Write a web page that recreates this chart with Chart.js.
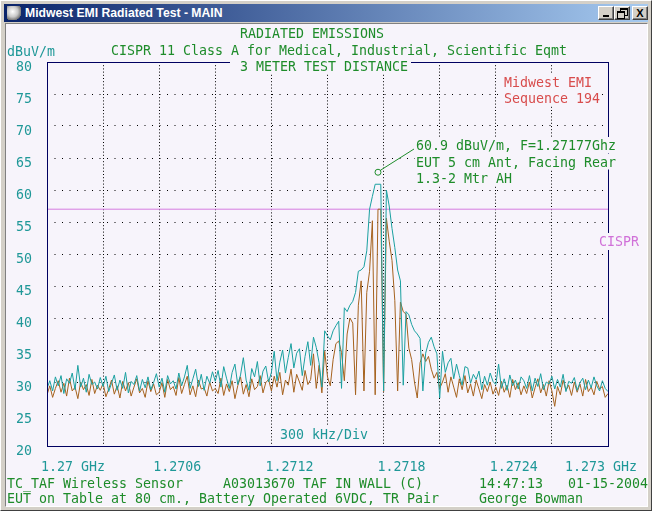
<!DOCTYPE html>
<html lang="en">
<head>
<meta charset="UTF-8">
<title>Midwest EMI Radiated Test - MAIN</title>
<script src="https://cdn.jsdelivr.net/npm/chart.js@4.4.1/dist/chart.umd.min.js"></script>
<style>
  body { margin: 0; background: #d4d0c8; }
  #win {
    position: relative; width: 652px; height: 511px; overflow: hidden;
    background: #d4d0c8; box-sizing: border-box;
    border-top: 1px solid #ffffff; border-left: 1px solid #ffffff;
    border-right: 1px solid #404040; border-bottom: 1px solid #404040;
  }
  #title {
    position: absolute; left: 3px; top: 3px; width: 644px; height: 18px;
    background: linear-gradient(to right, #0a246a, #a6caf0);
    color: #fff; font: bold 12.2px "Liberation Sans", Arial, sans-serif;
    line-height: 18px;
  }
  #title span.cap { position: absolute; left: 21px; top: 0; }
  #icon {
    position: absolute; left: 3px; top: 2px; width: 14px; height: 14px;
    background: radial-gradient(circle at 40% 40%, #ffffff 0, #c8c8c8 45%, #707070 75%, transparent 78%);
  }
  .btn {
    position: absolute; top: 2px; width: 16px; height: 14px; box-sizing: border-box;
    background: #d4d0c8;
    border-top: 1px solid #ffffff; border-left: 1px solid #ffffff;
    border-right: 1px solid #404040; border-bottom: 1px solid #404040;
    box-shadow: inset -1px -1px 0 #808080;
    color: #000; font: bold 11px "Liberation Sans", Arial, sans-serif;
    text-align: center; line-height: 12px;
  }
  #bmin { left: 594px; }
  #bmax { left: 610px; }
  #bclose { left: 628px; }
  #bmin i { position: absolute; left: 4px; top: 8px; width: 6px; height: 2px; background: #000; }
  #bmax i { position: absolute; width: 6px; height: 5px; border: 1px solid #000; border-top-width: 2px; background: #d4d0c8; }
  #bmax i.a { left: 5px; top: 1px; }
  #bmax i.b { left: 2px; top: 4px; }
  #client {
    position: absolute; left: 4px; top: 22px; width: 643px; height: 484px;
    background: #f7f4fb; box-sizing: border-box;
    border-left: 1px solid #808080; border-top: 1px solid #808080;
    border-right: 1px solid #ffffff; border-bottom: 1px solid #ffffff;
  }
  #chart { position: absolute; left: 0; top: 0; }
</style>
</head>
<body>
<div id="win">
  <div id="title"><div id="icon"></div><span class="cap">Midwest EMI Radiated Test - MAIN</span>
    <div class="btn" id="bmin"><i></i></div>
    <div class="btn" id="bmax"><i class="a"></i><i class="b"></i></div>
    <div class="btn" id="bclose">X</div>
  </div>
  <div id="client"></div>
  <canvas id="chart" width="651" height="510"></canvas>
</div>
<script>
// sweep: 201 points, 1.270 .. 1.273 GHz (values in MHz)
var sweepStartMHz = 1270;
var sweepStepMHz = 0.015;

// teal scan, dBuV/m
var scan1 = [
  29.0, 30.2, 28.6, 30.8, 29.4, 31.0, 28.2, 30.5, 29.8, 31.4, 28.8, 32.6, 29.2, 30.6, 28.4, 31.2, 29.6, 30.0, 28.9, 30.7,
  29.3, 30.9, 28.5, 29.8, 31.1, 28.7, 30.3, 29.0, 31.5, 28.3, 30.1, 29.6, 31.0, 28.6, 30.4, 29.1, 30.8, 28.8, 29.9, 31.3,
  29.2, 30.6, 28.4, 31.0, 29.7, 30.2, 28.9, 31.4, 29.4, 30.8, 32.6, 29.0, 30.5, 32.0, 29.3, 31.2, 28.7, 30.9, 29.8, 31.6,
  30.1, 31.8, 29.2, 32.4, 30.6, 29.0, 31.5, 32.8, 29.6, 31.1, 33.8, 30.3, 28.7, 32.1, 30.8, 33.2, 29.4, 31.7, 32.5, 30.0,
  31.5, 34.8, 30.2, 33.1, 35.0, 31.4, 33.8, 36.0, 32.2, 34.5, 35.2, 31.0, 34.0, 36.3, 32.6, 37.0, 35.4, 33.0, 29.2, 38.0,
  37.2, 36.6, 38.0, 38.8, 39.5, 29.0, 41.6, 41.0, 42.0, 42.6,
  44.0, 47.3, 47.5, 48.0, 50.5, 57.0, 59.0, 60.9, 60.9, 60.9,
  28.6, 60.0, 57.5, 54.0, 51.0, 47.5, 45.8, 29.5, 41.0, 40.5,
  39.0, 38.0, 37.5, 36.8, 28.6, 34.5, 36.2, 37.0, 35.5, 34.4,
  27.5, 34.8, 31.5, 33.0, 33.7, 30.5, 32.8, 31.0, 29.5, 32.4,
  32.2, 29.8, 31.2, 30.4, 31.7, 28.8, 30.9, 29.5, 31.4, 30.1,
  29.6, 32.8, 29.0, 30.5, 28.7, 31.1, 29.4, 30.3, 28.9, 30.8,
  30.2, 29.0, 31.0, 28.6, 30.6, 29.3, 31.3, 28.8, 30.0, 29.7,
  30.9, 28.9, 30.4, 29.2, 31.2, 28.5, 30.1, 29.8, 30.7, 28.7,
  29.9, 30.6, 28.8, 30.3, 29.1, 30.8, 29.4, 28.6, 30.2, 29.0, 28.5
];

// brown scan, dBuV/m
var scan2 = [
  28.0, 29.4, 27.6, 29.0, 30.2, 28.4, 29.8, 27.8, 30.6, 28.6, 29.2, 27.4, 30.0, 28.8, 29.6, 27.9, 30.4, 28.2, 29.5, 28.7,
  29.8, 27.7, 28.9, 30.3, 28.1, 29.4, 27.5, 30.1, 28.6, 29.9, 27.8, 29.2, 30.5, 28.3, 29.0, 27.6, 30.2, 28.5, 29.7, 28.0,
  28.4, 29.9, 27.6, 30.4, 28.8, 29.3, 27.9, 30.7, 28.2, 29.6, 30.9, 28.0, 29.4, 27.7, 30.3, 28.9, 29.1, 27.8, 30.0, 28.6,
  29.0, 28.2, 30.6, 27.9, 29.7, 28.5, 30.2, 27.4, 29.4, 30.8, 28.1, 29.6, 27.7, 30.5, 28.8, 29.3, 31.0, 28.3, 29.9, 30.4,
  28.6, 30.9, 29.2, 31.5, 28.0, 30.3, 29.5, 32.0, 28.4, 31.2, 30.0, 28.7, 31.8, 29.6, 30.4, 34.4, 29.0, 32.6, 28.3, 34.8,
  30.8, 29.4, 33.5, 36.0, 36.4, 34.6, 30.2, 37.5, 40.0, 39.2,
  28.0, 42.0, 45.8, 28.6, 44.0, 47.3, 55.2, 28.0, 57.0, 57.0,
  28.5, 55.6, 52.0, 49.0, 42.7, 28.6, 42.5, 41.0, 40.6, 35.3,
  33.5, 30.0, 27.5, 33.0, 34.4, 33.2, 34.0, 32.0, 30.6, 31.5,
  29.0, 30.0, 31.3, 28.4, 30.8, 29.2, 27.6, 30.5, 28.8, 31.0,
  28.3, 29.7, 27.8, 30.3, 28.9, 27.4, 29.6, 28.5, 30.0, 28.1,
  29.2, 27.9, 30.1, 28.4, 29.5, 27.6, 30.4, 28.8, 29.9, 28.0,
  29.4, 28.2, 30.0, 27.5, 29.1, 30.5, 28.3, 29.6, 27.8, 30.2,
  28.6, 26.2, 29.3, 28.0, 30.3, 28.7, 29.5, 27.9, 30.0, 28.4,
  29.7, 27.8, 30.4, 28.5, 29.2, 28.0, 30.1, 28.9, 29.3, 27.6, 28.2
];

var cisprLimit = 57;          // dBuV/m
var markerFreqMHz = 1271.77;
var markerLevel = 60.9;

var freqTickValues = [1270, 1270.6, 1271.2, 1271.8, 1272.4, 1273];
var freqTickLabels = ['1.27 GHz', '1.2706', '1.2712', '1.2718', '1.2724', '1.273 GHz'];

var headerLines = ['RADIATED EMISSIONS', 'CISPR 11 Class A for Medical, Industrial, Scientific Eqmt', '3 METER TEST DISTANCE'];
var siteLines = ['Midwest EMI', 'Sequence 194'];
var markerLines = ['60.9 dBuV/m, F=1.27177Ghz', 'EUT 5 cm Ant, Facing Rear', '1.3-2 Mtr AH'];
var footerRow1 = ['TC_TAF Wireless Sensor', 'A03013670 TAF IN WALL (C)', '14:47:13', '01-15-2004'];
var footerRow2 = ['EUT on Table at 80 cm., Battery Operated 6VDC, TR Pair', 'George Bowman'];

var GREEN = '#1e8c2a';
var TEAL = '#1f9898';
var RED = '#d84c4c';
var PINK = '#d070d8';
var BG = '#f7f4fb';

function toPoints(arr) {
    var pts = [];
    for (var i = 0; i < arr.length; i++) {
        pts.push({x: sweepStartMHz + i * sweepStepMHz, y: arr[i]});
    }
    return pts;
}

// narrow tall DOS-like text: 8px cell, ~10.5px caps
var FONT_PX = 14.5;
function putText(ctx, s, x, cy, color, align, bg) {
    ctx.save();
    ctx.font = FONT_PX + 'px "DejaVu Sans Mono", monospace';
    var sx = 8 / ctx.measureText('M').width;
    var w = ctx.measureText(s).width * sx;
    var left = x;
    if (align == 'right') left = x - w;
    else if (align == 'center') left = x - w / 2;
    if (bg) {
        // text cells blank out the grid dots behind them
        ctx.fillStyle = BG;
        ctx.fillRect(left - 1, cy - 8, w + 2, 16);
    }
    ctx.translate(left, cy + FONT_PX * 0.365);
    ctx.scale(sx, 1);
    ctx.fillStyle = color;
    ctx.textAlign = 'left';
    ctx.textBaseline = 'alphabetic';
    ctx.fillText(s, 0, 0);
    ctx.restore();
    return w;
}

var decorations = {
    id: 'decorations',
    afterDatasetsDraw: function(chart) {
        var ctx = chart.ctx;
        var a = chart.chartArea;
        var xs = chart.scales.x, ys = chart.scales.y;

        // plot frame
        ctx.save();
        ctx.strokeStyle = '#000060';
        ctx.lineWidth = 1;
        ctx.strokeRect(Math.round(a.left) + 0.5, Math.round(a.top) + 0.5,
                       Math.round(a.right - a.left), Math.round(a.bottom - a.top));

        // label backgrounds that break the frame
        ctx.fillStyle = BG;
        ctx.fillRect(229, 57, 181, 15);
        ctx.fillRect(598, 232, 42, 17);
        ctx.restore();

        // header
        putText(ctx, headerLines[0], 239, 32, GREEN);
        putText(ctx, 'dBuV/m', 6, 50, TEAL);
        putText(ctx, headerLines[1], 110, 49, GREEN);
        putText(ctx, headerLines[2], 239, 65, GREEN);

        // y ticks
        ys.ticks.forEach(function(t) {
            putText(ctx, String(t.value), 31, ys.getPixelForValue(t.value) + 4, TEAL, 'right');
        });

        // x ticks
        freqTickValues.forEach(function(v, i) {
            var px = xs.getPixelForValue(v);
            if (i == freqTickValues.length - 1) putText(ctx, freqTickLabels[i], px + 29, 465, TEAL, 'right');
            else putText(ctx, freqTickLabels[i], px - 6, 465, TEAL);
        });

        putText(ctx, siteLines[0], 503, 81, RED, 'left', true);
        putText(ctx, siteLines[1], 503, 97, RED, 'left', true);

        putText(ctx, 'CISPR', 598, 240, PINK);
        putText(ctx, '300 kHz/Div', 323, 433, TEAL, 'center', true);

        // peak marker
        var mx = xs.getPixelForValue(markerFreqMHz);
        var my = ys.getPixelForValue(markerLevel) - 12;
        markerLines.forEach(function(s, i) {
            putText(ctx, s, 415, 144 + i * 16.5, GREEN, 'left', true);
        });
        ctx.save();
        ctx.strokeStyle = GREEN;
        ctx.lineWidth = 1;
        ctx.beginPath();
        ctx.arc(mx, my, 3, 0, Math.PI * 2);
        ctx.stroke();
        ctx.beginPath();
        ctx.moveTo(mx + 2.5, my - 2);
        ctx.lineTo(413, 148);
        ctx.stroke();
        ctx.restore();

        // footer
        putText(ctx, footerRow1[0], 6, 482, GREEN);
        putText(ctx, footerRow1[1], 222, 482, GREEN);
        putText(ctx, footerRow1[2], 478, 482, GREEN);
        putText(ctx, footerRow1[3], 567, 482, GREEN);
        putText(ctx, footerRow2[0], 6, 497, GREEN);
        putText(ctx, footerRow2[1], 478, 497, GREEN);
    }
};

var chart = new Chart(document.getElementById('chart'), {
    type: 'line',
    data: {
        datasets: [
        {
            label: 'Scan 1',
            data: toPoints(scan1),
            borderColor: '#1aa0a0',
            borderWidth: 1,
            pointRadius: 0,
            tension: 0
        },
        {
            label: 'Scan 2',
            data: toPoints(scan2),
            borderColor: '#a5621e',
            borderWidth: 1,
            pointRadius: 0,
            tension: 0
        },
        {
            label: 'CISPR',
            data: [{x: 1270, y: cisprLimit}, {x: 1273, y: cisprLimit}],
            borderColor: '#d67ce0',
            borderWidth: 1,
            pointRadius: 0
        }]
    },
    options: {
        responsive: false,
        animation: false,
        events: [],
        layout: {padding: {left: 46, top: 61, right: 44, bottom: 65}},
        plugins: {legend: {display: false}, tooltip: {enabled: false}},
        scales: {
            x: {
                type: 'linear', min: 1270, max: 1273,
                ticks: {display: false, stepSize: 0.3},
                grid: {color: '#000000', lineWidth: 1, drawTicks: false},
                border: {display: false, dash: [1, 2.2]}
            },
            y: {
                min: 20, max: 80,
                ticks: {display: false, stepSize: 5},
                grid: {color: '#000000', lineWidth: 1, drawTicks: false},
                border: {display: false, dash: [1, 6.5]}
            }
        }
    },
    plugins: [decorations]
});
</script>
</body>
</html>
